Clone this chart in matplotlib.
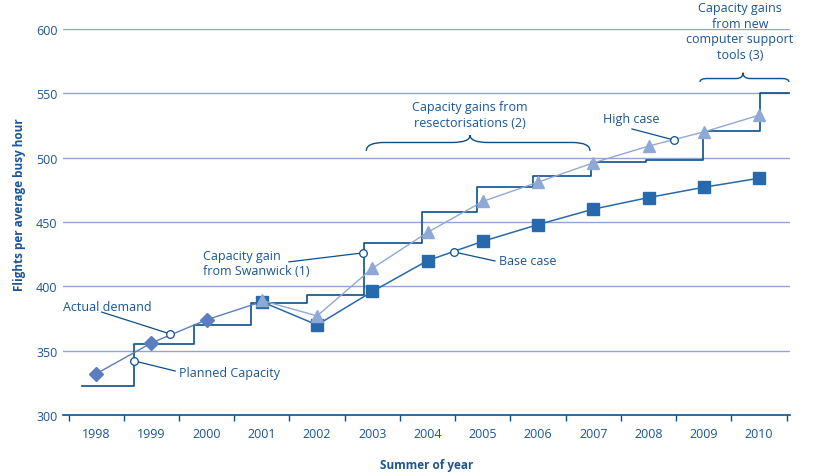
import matplotlib
matplotlib.use("Agg")
import matplotlib.pyplot as plt
from matplotlib.path import Path
from matplotlib.patches import PathPatch

# Actual demand (summer of year)
years_actual = [1998, 1999, 2000, 2001]
actual_demand = [332, 356, 374, 388]

# Forecasts
years_fc = [2001, 2002, 2003, 2004, 2005, 2006, 2007, 2008, 2009, 2010]
base_case = [388, 370, 396, 420, 435, 448, 460, 469, 477, 484]
high_case = [389, 377, 414, 442, 466, 481, 496, 509, 520, 533]

# Planned capacity (step changes)
cap_x = [1997.75, 1998.69, 1999.77, 2000.8, 2001.81, 2002.84, 2003.9,
         2004.89, 2005.91, 2006.95, 2007.95, 2008.98, 2010.02, 2010.55]
cap_y = [322.5, 355, 370, 387, 393, 434, 458, 477.5, 485.5, 496.5,
         498.5, 520.5, 550, 550]

year_labels = [str(y) for y in range(1998, 2011)]

TEXT = '#1a5596'
NAVY = '#0d4f8b'
GRID = '#8ea6d4'
DIAM = '#5a7fbe'
SQ = '#2869ad'
TRI = '#8fa9d6'
FONT = 'Open Sans'

plt.rcParams['font.family'] = [FONT, 'DejaVu Sans']

fig = plt.figure(figsize=(8.3, 4.77), dpi=100)
ax = fig.add_axes([0.0759, 0.1279, 0.8759, 0.8092])

ax.set_xlim(1997.40, 2010.56)
ax.set_ylim(300, 600)

for v in range(350, 601, 50):
    ax.axhline(v, color=GRID, lw=1.0, zorder=1)

# capacity step line
ax.plot(cap_x, cap_y, drawstyle='steps-post', color=NAVY, lw=1.2, zorder=3)

# demand and forecasts
ax.plot(years_actual, actual_demand, color=DIAM, lw=1.0, marker='D',
        markersize=7, markevery=[0, 1, 2], zorder=4)
ax.plot(years_fc, base_case, color=SQ, lw=1.1, marker='s', markersize=8.5,
        zorder=5)
ax.plot(years_fc, high_case, color=TRI, lw=1.0, marker='^', markersize=9,
        zorder=6)

# annotations: (text, text pos, line start, circle pos, ha)
notes = [
    ("Actual demand", (1997.40, 384.7), (1998.10, 380.0), (1999.34, 363.0), 'left'),
    ("Planned Capacity", (1999.50, 333.4), (1999.43, 334.2), (1998.69, 342.0), 'left'),
    ("Capacity gain\nfrom Swanwick (1)", (1999.94, 418.0), (2001.49, 419.0), (2002.83, 426.0), 'left'),
    ("Base case", (2005.29, 419.7), (2005.22, 419.7), (2004.48, 426.7), 'left'),
    ("High case", (2007.68, 530.8), (2007.70, 522.3), (2008.46, 513.7), 'center'),
]
for txt, tpos, lstart, cpos, ha in notes:
    ax.text(tpos[0], tpos[1], txt, ha=ha, va='center', color=TEXT,
            fontsize=9, linespacing=1.25, zorder=8)
    ax.plot([lstart[0], cpos[0]], [lstart[1], cpos[1]], color=NAVY, lw=0.9,
            zorder=7)
    ax.plot(cpos[0], cpos[1], marker='o', markersize=5.5, mfc='white',
            mec=NAVY, mew=0.9, zorder=9)

ax.text(2004.77, 533.5, "Capacity gains from\nresectorisations (2)",
        ha='center', va='center', color=TEXT, fontsize=9, linespacing=1.25)
ax.text(2009.65, 598.4, "Capacity gains\nfrom new\ncomputer support\ntools (3)",
        ha='center', va='center', color=TEXT, fontsize=9, linespacing=1.25,
        clip_on=False)


def brace(x0, x1, xm, yb, ym, yt):
    r = (x1 - x0) * 0.08
    verts = [(x0, yb), (x0, ym), (x0 + r, ym), (xm - r, ym), (xm, ym),
             (xm, yt), (xm, ym), (xm + r, ym), (x1 - r, ym), (x1, ym), (x1, yb)]
    codes = [Path.MOVETO, Path.CURVE3, Path.CURVE3, Path.LINETO, Path.CURVE3,
             Path.CURVE3, Path.CURVE3, Path.CURVE3, Path.LINETO, Path.CURVE3,
             Path.CURVE3]
    ax.add_patch(PathPatch(Path(verts, codes), fill=False, edgecolor=NAVY,
                           lw=1.0, clip_on=False, zorder=7))


brace(2002.89, 2006.94, 2004.77, 505.2, 511.8, 517.5)
brace(2008.93, 2010.54, 2009.71, 558.8, 561.5, 566.0)

# axes styling
for s in ['top', 'right', 'left']:
    ax.spines[s].set_visible(False)
ax.spines['bottom'].set_color(NAVY)
ax.spines['bottom'].set_linewidth(1.2)

ax.set_xticks(range(1998, 2011))
ax.set_xticklabels(year_labels)
ax.set_xticks([y + 0.5 for y in range(1997, 2011)], minor=True)
ax.tick_params(axis='x', which='major', length=0, pad=9, labelcolor=TEXT,
               labelsize=9)
ax.tick_params(axis='x', which='minor', length=4, width=1.0, color=NAVY,
               direction='out')
ax.set_yticks(range(300, 601, 50))
ax.tick_params(axis='y', length=0, pad=4, labelcolor=TEXT, labelsize=9)

ax.set_xlabel("Summer of year", color=TEXT, fontsize=8.5, fontweight='bold')
ax.xaxis.set_label_coords(0.5, -0.112)
ax.set_ylabel("Flights per average busy hour", color=TEXT, fontsize=8.5,
              fontweight='bold')
ax.yaxis.set_label_coords(-0.051, 0.547)

fig.savefig('out.png', dpi=100)
